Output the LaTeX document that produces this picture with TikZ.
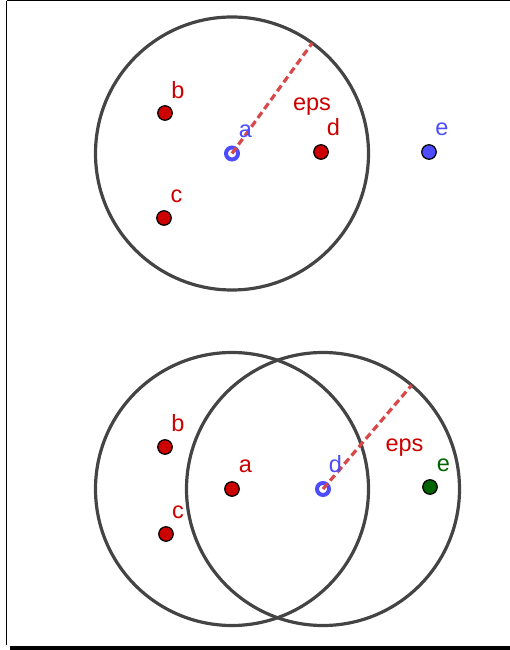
\documentclass[tikz,border=0pt]{standalone}
\usepackage{fontspec}
\setmainfont{Liberation Sans}
\usetikzlibrary{calc}
\begin{document}
\begin{tikzpicture}[x=1pt,y=1pt]
\definecolor{ptred}{RGB}{204,0,0}
\definecolor{ptblue}{RGB}{77,77,255}
\definecolor{ptgreen}{RGB}{0,100,0}
\definecolor{circgray}{RGB}{68,68,68}
\definecolor{dashred}{RGB}{217,72,72}
\tikzset{
  pt/.style={circle,draw=black,line width=1.2pt,inner sep=0pt,minimum size=14.5pt,fill=#1},
  ring/.style={circle,draw=ptblue,line width=4pt,inner sep=0pt,minimum size=12pt,fill=white},
  lbl/.style={anchor=base,inner sep=0pt,font=\fontsize{23.5}{24}\selectfont,text=#1},
  bigcirc/.style={draw=circgray,line width=3.2pt},
  epsline/.style={draw=dashred,line width=3.2pt,dash pattern=on 7pt off 4pt},
}
\useasboundingbox (0,0) rectangle (510,650);
% frame
\draw[line width=1pt] (6.5,649) -- (510,649);
\draw[line width=1pt] (6.5,649) -- (6.5,5);
\draw[line width=4pt] (10,2) -- (510,2);

% ---------- top ----------
\coordinate (ta) at (232,496.5);
\draw[bigcirc] (ta) circle (136.5);
\node[ring] (taring) at (ta) {};
\coordinate (tend) at ($(ta)+(54:136.5)$);
\draw[epsline] (ta) -- (tend);
\node[pt=ptred] (tb) at (165,537) {};
\node[pt=ptred] (tc) at (164,432) {};
\node[pt=ptred] (td) at (321,498) {};
\node[pt=ptblue] (te) at (429,498) {};
\node[lbl=ptred] (tlb) at (178,551) {b};
\node[lbl=ptred] (tlc) at (176.5,447) {c};
\node[lbl=ptred] (tld) at (333.5,514) {d};
\node[lbl=ptblue] (tle) at (442,514) {e};
\node[lbl=ptblue] (tla) at (245.5,512) {a};
\node[lbl=ptred] (tleps) at (312,539) {eps};

% ---------- bottom ----------
\coordinate (ba) at (232,161);
\coordinate (bd) at (323,161);
\draw[bigcirc] (ba) circle (136.5);
\draw[bigcirc] (bd) circle (136.5);
\node[ring] (bdring) at (bd) {};
\coordinate (bend) at ($(bd)+(49.5:136.5)$);
\draw[epsline] (bd) -- (bend);
\node[pt=ptred] (bb) at (165,203) {};
\node[pt=ptred] (bc) at (166,116) {};
\node[pt=ptred] (bapt) at (ba) {};
\node[pt=ptgreen] (be) at (430,163) {};
\node[lbl=ptred] (blb) at (178,218) {b};
\node[lbl=ptred] (blc) at (178,131) {c};
\node[lbl=ptred] (bla) at (245.5,177) {a};
\node[lbl=ptblue] (bld) at (335.5,177) {d};
\node[lbl=ptgreen] (ble) at (443.5,178) {e};
\node[lbl=ptred] (bleps) at (404.5,198) {eps};
\end{tikzpicture}
\end{document}
